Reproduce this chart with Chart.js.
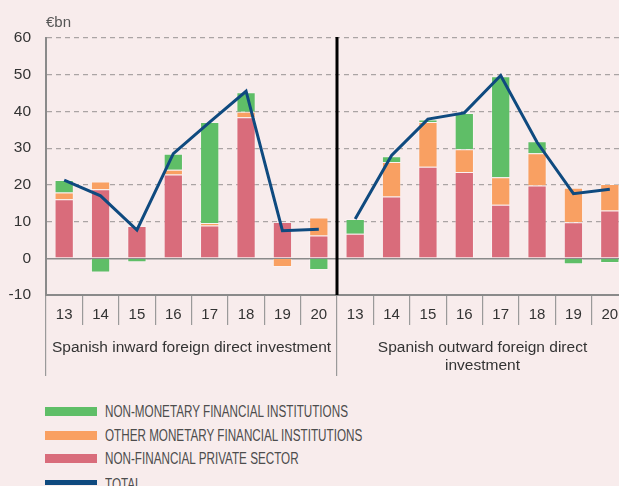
<!DOCTYPE html>
<html><head><meta charset="utf-8">
<script src="https://cdn.jsdelivr.net/npm/chart.js@4"></script>
<style>
html,body{margin:0;padding:0;background:#f8ecec;overflow:hidden;width:619px;height:486px;}
#wrap{position:absolute;left:0;top:0;width:632px;height:380px;}
#legend{position:absolute;left:45px;top:0;font-family:'Liberation Sans',Arial,Helvetica,sans-serif;}
.sw{position:absolute;left:0;width:52px;height:8.5px;}
.tx{position:absolute;left:60px;font-size:16px;line-height:16px;color:#4d4d4d;white-space:nowrap;transform:scaleX(0.73);transform-origin:0 0;}
</style></head>
<body>
<div id="wrap"><canvas id="c" width="632" height="380"></canvas></div>
<div id="legend"></div>
<script>
// ---- data ----
const categories = ['13','14','15','16','17','18','19','20','13','14','15','16','17','18','19','20'];
const groups = ['Spanish inward foreign direct investment', ['Spanish outward foreign direct', 'investment']];
const nonFinancialPrivate = [16.1, 18.8, 8.8, 22.8, 8.9, 38.4, 9.9, 6.2,   6.7, 16.8, 24.9, 23.5, 14.6, 19.8, 9.8, 13.0];
const otherMonetary       = [1.8, 2.1, null, 1.3, 0.7, 1.5, -2.4, 4.9,     null, 9.4, 12.2, 6.2, 7.5, 8.8, 9.4, 7.2];
const nonMonetary         = [3.4, -3.9, -1.1, 4.4, 27.5, 5.3, null, -3.2,  4.0, 1.6, 0.7, 9.9, 27.5, 3.3, -1.6, -1.3];
const totalInward  = [21.3, 17.0, 7.7, 28.5, 37.1, 45.5, 7.5, 7.9];
const totalOutward = [10.7, 28.0, 37.9, 39.6, 49.8, 31.6, 17.6, 18.8];
const yTicks = [-10, 0, 10, 20, 30, 40, 50, 60];

const labelsLegend = ['NON-MONETARY FINANCIAL INSTITUTIONS', 'OTHER MONETARY FINANCIAL INSTITUTIONS', 'NON-FINANCIAL PRIVATE SECTOR', 'TOTAL'];
const colGreen = '#5fbe67', colOrange = '#f9a062', colRed = '#d96c7b', colBlue = '#0f4a7f';

const pad8 = [null, null, null, null, null, null, null, null];
const totalInwardLine = totalInward.concat(pad8);
const totalOutwardLine = pad8.concat(totalOutward);

const FONT = "'Liberation Sans', Arial, Helvetica, sans-serif";
Chart.defaults.font.family = FONT;

const divider = {
  id: 'divider',
  afterDatasetsDraw(chart) {
    const x = chart.scales.x, a = chart.chartArea, ctx = chart.ctx;
    const px = (x.getPixelForValue(7) + x.getPixelForValue(8)) / 2;
    ctx.save();
    ctx.strokeStyle = '#000'; ctx.lineWidth = 3;
    ctx.beginPath(); ctx.moveTo(px, a.top - 1); ctx.lineTo(px, a.bottom); ctx.stroke();
    ctx.restore();
  }
};
const unitLabel = {
  id: 'unitLabel',
  afterDraw(chart) {
    const ctx = chart.ctx;
    ctx.save();
    ctx.font = '15px ' + FONT; ctx.fillStyle = '#555';
    ctx.textAlign = 'left'; ctx.textBaseline = 'middle';
    ctx.fillText('€bn', chart.chartArea.left, 23);
    ctx.restore();
  }
};

const barCommon = {type: 'bar', borderWidth: 1, borderColor: 'rgba(255,255,255,0.35)', order: 1, stack: 'bars',
  categoryPercentage: 1, barPercentage: 0.53};

new Chart(document.getElementById('c'), {
  data: {
    labels: categories,
    datasets: [
      Object.assign({label: labelsLegend[2], data: nonFinancialPrivate, backgroundColor: colRed}, barCommon),
      Object.assign({label: labelsLegend[1], data: otherMonetary, backgroundColor: colOrange}, barCommon),
      Object.assign({label: labelsLegend[0], data: nonMonetary, backgroundColor: colGreen}, barCommon),
      {type: 'line', label: labelsLegend[3], data: totalInwardLine, borderColor: colBlue, borderWidth: 3, pointRadius: 0, tension: 0, order: 0, stack: 't1', spanGaps: false},
      {type: 'line', label: labelsLegend[3], data: totalOutwardLine, borderColor: colBlue, borderWidth: 3, pointRadius: 0, tension: 0, order: 0, stack: 't2', spanGaps: false}
    ]
  },
  options: {
    responsive: false,
    animation: false,
    devicePixelRatio: 1,
    layout: {padding: {top: 38, right: 4, left: 0, bottom: 4}},
    plugins: {legend: {display: false}, tooltip: {enabled: false}},
    scales: {
      x: {
        stacked: true, offset: true, weight: 0,
        grid: {offset: true, drawOnChartArea: false, drawTicks: true, tickLength: 30, color: '#9a9a9a', lineWidth: 1.2},
        border: {display: true, color: '#8a8a8a', width: 2},
        ticks: {autoSkip: false, maxRotation: 0, padding: -19, color: '#333', font: {size: 15}},
        afterFit: s => { s.height = 30; }
      },
      x2: {
        type: 'category', labels: groups, position: 'bottom', offset: true, weight: 1,
        grid: {offset: true, drawOnChartArea: false, drawTicks: true, tickLength: 51, color: '#9a9a9a', lineWidth: 1.2},
        border: {display: false},
        ticks: {autoSkip: false, maxRotation: 0, padding: -37, color: '#333', font: {size: 15.5, lineHeight: 1.15}},
        afterFit: s => { s.height = 51; }
      },
      y: {
        stacked: true, min: -10, max: 60,
        afterBuildTicks: s => { s.ticks = yTicks.map(v => ({value: v})); },
        afterFit: s => { s.width = 46; },
        grid: {
          drawTicks: false,
          color: c => (c.tick && c.tick.value === 0) ? '#8a8a8a' : ((c.tick && c.tick.value === -10) ? 'rgba(0,0,0,0)' : '#aaa4a4'),
          lineWidth: c => (c.tick && c.tick.value === 0) ? 1.5 : 1.2
        },
        border: {display: true, color: '#8a8a8a', width: 2,
          dash: c => (c.tick && c.tick.value !== 0) ? [5, 4] : []},
        ticks: {padding: 15, color: '#333', font: {size: 15.5}, callback: v => String(v)}
      }
    }
  },
  plugins: [divider, unitLabel]
});

// ---- legend (HTML) ----
const legendItems = [
  {text: labelsLegend[0], color: colGreen, top: 407.3, h: 8.5},
  {text: labelsLegend[1], color: colOrange, top: 431, h: 8.5},
  {text: labelsLegend[2], color: colRed, top: 454.3, h: 8.5},
  {text: labelsLegend[3], color: colBlue, top: 480, h: 4.5}
];
const lg = document.getElementById('legend');
legendItems.forEach(it => {
  const sw = document.createElement('div');
  sw.className = 'sw'; sw.style.top = it.top + 'px'; sw.style.height = it.h + 'px'; sw.style.background = it.color;
  lg.appendChild(sw);
  const tx = document.createElement('div');
  tx.className = 'tx'; tx.style.top = (it.top - 3.5) + 'px'; tx.textContent = it.text;
  lg.appendChild(tx);
});
</script>
</body></html>
